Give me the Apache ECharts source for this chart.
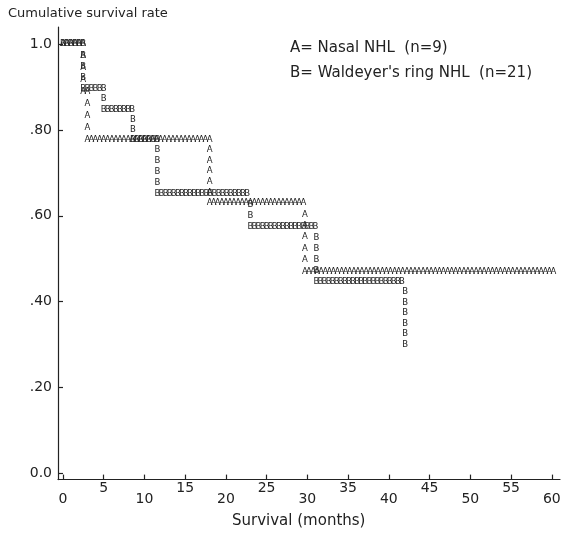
<!DOCTYPE html>
<html>
<head>
<meta charset="utf-8">
<script src="https://cdn.jsdelivr.net/npm/echarts@6/dist/echarts.min.js"></script>
<style>
  html, body { margin: 0; padding: 0; background: #fff; }
  #chart { width: 568px; height: 534px; }
</style>
</head>
<body>
<div id="chart"></div>
<script>
// ---- data (months, cumulative survival) ----
const seriesALabel = "A= Nasal NHL  (n=9)";
const seriesBLabel = "B= Waldeyer's ring NHL  (n=21)";
// step start times and survival level held from that time
const aTimes  = [0, 2.5, 3, 18, 29.7];
const aLevels = [1.0, 0.889, 0.778, 0.63, 0.47];
const aEnd = 60.5;
const bTimes  = [0, 2.5, 5, 8.6, 11.6, 23, 31.1, 42];
const bLevels = [1.0, 0.895, 0.848, 0.778, 0.651, 0.575, 0.447, 0.30];
const bEnd = 42;
const xTicks = [0, 5, 10, 15, 20, 25, 30, 35, 40, 45, 50, 55, 60];
const xLabelsHigh = [5, 15, 25, 35, 45, 55];
const xLabelsLow = [0, 10, 20, 30, 40, 50, 60];
const yTicks = [0, 0.2, 0.4, 0.6, 0.8, 1.0];
const yTickLabels = ["0.0", ".20", ".40", ".60", ".80", "1.0"];

const CHAR_STEP_X = 0.5;    // one printed character per half month
const CHAR_STEP_Y = 0.025;  // one printed row per 0.025 of survival
const INK = '#222';
const FONT = 'DejaVu Sans';
const Y_MIN = -0.015, Y_MAX = 1.04;

function makeRender(times, levels, end, letter) {
  return function (params, api) {
    const i = params.dataIndex;
    const t0 = api.value(0), s0 = api.value(1);
    const t1 = i + 1 < times.length ? times[i + 1] : end;
    const children = [];
    const put = (t, s) => {
      const p = api.coord([t, s]);
      children.push({
        type: 'text', x: p[0], y: p[1],
        style: { text: letter, fill: INK, fontSize: 8.5, fontFamily: FONT,
                 align: 'center', verticalAlign: 'middle',
                 textAlign: 'center', textVerticalAlign: 'middle' }
      });
    };
    for (let t = t0; t <= t1 + 1e-6; t += CHAR_STEP_X) put(t, s0);
    if (i + 1 < times.length) {
      const s1 = levels[i + 1];
      const n = Math.max(1, Math.round((s0 - s1) / CHAR_STEP_Y));
      for (let j = 1; j < n; j++) put(t1, s0 - j * (s0 - s1) / n);
    }
    return { type: 'group', children };
  };
}

// tick-label rows drawn through the x scale; dy = pixel drop below the axis line
function makeLabelRender(dy) {
  return function (params, api) {
    const v = api.value(0);
    const p = api.coord([v, Y_MIN]);
    return {
      type: 'text', x: p[0], y: p[1] + dy,
      style: { text: String(v), fill: INK, fontSize: 14, fontFamily: FONT,
               align: 'center', verticalAlign: 'top',
               textAlign: 'center', textVerticalAlign: 'top' }
    };
  };
}

const chart = echarts.init(document.getElementById('chart'));
const axisLineStyle = { color: INK, width: 1.2 };
chart.setOption({
  animation: false,
  backgroundColor: '#fff',
  grid: { left: 58, right: 8, top: 27, bottom: 54.4, containLabel: false },
  xAxis: {
    type: 'value', min: -0.6, max: 61, position: 'bottom',
    splitLine: { show: false },
    axisLine: { show: true, onZero: false, lineStyle: axisLineStyle },
    axisTick: { show: true, inside: true, length: 5, customValues: xTicks, lineStyle: axisLineStyle },
    axisLabel: { show: false }
  },
  yAxis: {
    type: 'value', min: Y_MIN, max: Y_MAX,
    splitLine: { show: false },
    axisLine: { show: true, onZero: false, lineStyle: axisLineStyle },
    axisTick: { show: true, inside: true, length: 5, customValues: yTicks, lineStyle: axisLineStyle },
    axisLabel: {
      customValues: yTicks, margin: 6, color: INK, fontFamily: FONT, fontSize: 14,
      formatter: v => yTickLabels[yTicks.findIndex(x => Math.abs(x - v) < 1e-6)]
    }
  },
  graphic: [
    { type: 'text', left: 8, top: 7, style: { text: 'Cumulative survival rate', fill: INK, font: '13px "DejaVu Sans"' } },
    { type: 'text', left: 290, top: 41, style: { text: seriesALabel, fill: INK, font: '15px "DejaVu Sans"' } },
    { type: 'text', left: 290, top: 66, style: { text: seriesBLabel, fill: INK, font: '15px "DejaVu Sans"' } },
    { type: 'text', left: 232, top: 514, style: { text: 'Survival (months)', fill: INK, font: '15px "DejaVu Sans"' } }
  ],
  series: [
    { name: seriesALabel, type: 'custom', clip: false,
      data: aTimes.map((t, i) => [t, aLevels[i]]),
      renderItem: makeRender(aTimes, aLevels, aEnd, 'A') },
    { name: seriesBLabel, type: 'custom', clip: false,
      data: bTimes.map((t, i) => [t, bLevels[i]]),
      renderItem: makeRender(bTimes, bLevels, bEnd, 'B') },
    { name: 'xLabelsHigh', type: 'custom', clip: false, silent: true,
      data: xLabelsHigh.map(v => [v, Y_MIN]),
      renderItem: makeLabelRender(2) },
    { name: 'xLabelsLow', type: 'custom', clip: false, silent: true,
      data: xLabelsLow.map(v => [v, Y_MIN]),
      renderItem: makeLabelRender(13) }
  ]
});
</script>
</body>
</html>
